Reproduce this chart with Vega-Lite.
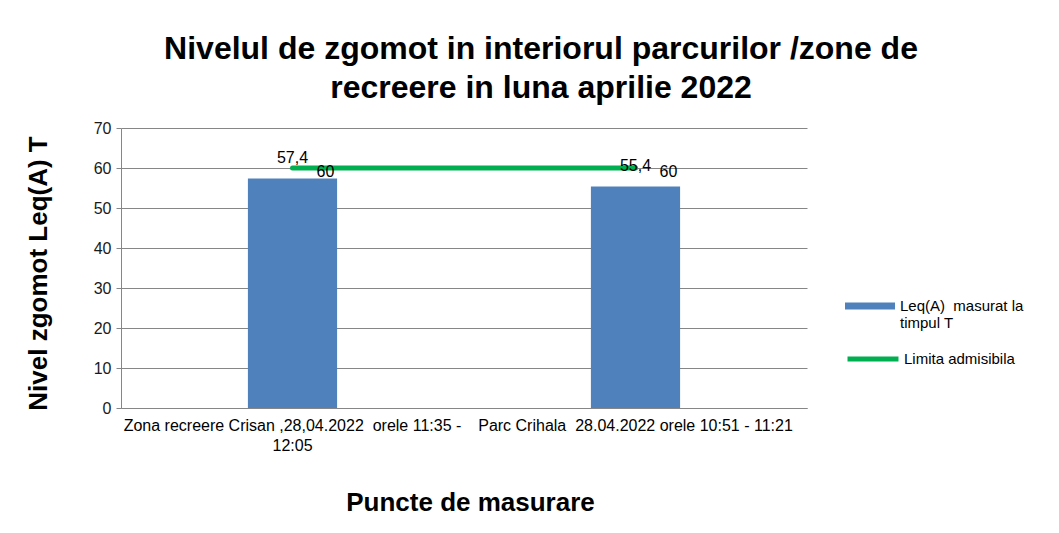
{
  "$schema": "https://vega.github.io/schema/vega-lite/v6.json",
  "width": 686,
  "height": 280,
  "autosize": {"type": "none"},
  "padding": {"left": 121, "top": 128, "right": 252, "bottom": 125},
  "background": "white",
  "config": {
    "font": "Liberation Sans",
    "view": {"stroke": null},
    "locale": {"number": {"decimal": ",", "thousands": ".", "grouping": [3], "currency": ["", " lei"]}},
    "axisY": {
      "titleFont": "Liberation Sans",
      "titleFontSize": 26,
      "titleFontWeight": "bold",
      "titleColor": "#000000",
      "titleAngle": -90,
      "titleX": -83,
      "titleY": 145,
      "titleAlign": "center",
      "titleBaseline": "middle",
      "labelFontSize": 16,
      "labelColor": "#1a1a1a",
      "labelPadding": 5,
      "tickSize": 5,
      "tickColor": "#868686",
      "domainColor": "#868686",
      "gridColor": "#868686",
      "gridWidth": 1,
      "grid": true
    }
  },
  "title": {
    "text": ["Nivelul de zgomot in interiorul parcurilor /zone de", "recreere in luna aprilie 2022"],
    "font": "Liberation Sans",
    "fontSize": 32,
    "fontWeight": "bold",
    "color": "#000000",
    "anchor": "middle",
    "dx": 77,
    "lineHeight": 39,
    "offset": 15
  },
  "data": {
    "values": [
      {"punct": "Zona recreere Crisan ,28,04.2022  orele 11:35 - 12:05", "leq": 57.4, "limita": 60},
      {"punct": "Parc Crihala  28.04.2022 orele 10:51 - 11:21", "leq": 55.4, "limita": 60}
    ]
  },
  "encoding": {
    "x": {
      "field": "punct",
      "type": "nominal",
      "sort": null,
      "scale": {"paddingInner": 0.74, "paddingOuter": 0.37},
      "axis": {
        "title": "Puncte de masurare",
        "titleFont": "Liberation Sans",
        "titleFontSize": 26,
        "titleFontWeight": "bold",
        "titleColor": "#000000",
        "titleX": 349,
        "titleY": 94,
        "titleBaseline": "middle",
        "titleAlign": "center",
        "labelAngle": 0,
        "labelFontSize": 16,
        "labelColor": "#000000",
        "labelLimit": 0,
        "labelOverlap": false,
        "labelPadding": 9,
        "labelLineHeight": 20,
        "labelExpr": "datum.value == 'Zona recreere Crisan ,28,04.2022  orele 11:35 - 12:05' ? ['Zona recreere Crisan ,28,04.2022\u00a0 orele 11:35 -', '12:05'] : 'Parc Crihala\u00a0 28.04.2022 orele 10:51 - 11:21'",
        "ticks": false,
        "domainColor": "#868686",
        "domainWidth": 1
      }
    }
  },
  "layer": [
    {
      "mark": {"type": "bar", "strokeWidth": 0},
      "encoding": {
        "y": {
          "field": "leq",
          "type": "quantitative",
          "scale": {"domain": [0, 70]},
          "axis": {"title": "Nivel zgomot Leq(A) T", "values": [0, 10, 20, 30, 40, 50, 60, 70]}
        },
        "color": {
          "datum": "Leq(A)  masurat la timpul T",
          "type": "nominal",
          "scale": {"range": ["#4F81BD"]},
          "legend": {
            "title": null,
            "orient": "none",
            "legendX": 724,
            "legendY": 153,
            "symbolType": "M-1,-0.14H1V0.14H-1Z",
            "symbolSize": 2500,
            "symbolStrokeWidth": 0,
            "labelFontSize": 15,
            "labelColor": "#000000",
            "labelBaseline": "middle",
            "labelLineHeight": 17,
            "labelOffset": 5,
            "labelLimit": 0,
            "labelExpr": "['Leq(A)\u00a0 masurat la', 'timpul T']"
          }
        }
      }
    },
    {
      "mark": {"type": "line", "strokeWidth": 5, "strokeCap": "round"},
      "encoding": {
        "y": {"field": "limita", "type": "quantitative", "axis": {"title": "Nivel zgomot Leq(A) T", "values": [0, 10, 20, 30, 40, 50, 60, 70]}},
        "stroke": {
          "datum": "Limita admisibila",
          "type": "nominal",
          "scale": {"range": ["#00B050"]},
          "legend": {
            "title": null,
            "orient": "none",
            "legendX": 724,
            "legendY": 203,
            "symbolType": "stroke",
            "symbolSize": 2600,
            "symbolStrokeWidth": 5,
            "labelFontSize": 15,
            "labelColor": "#000000",
            "labelOffset": 3,
            "labelLimit": 0
          }
        }
      }
    },
    {
      "mark": {"type": "text", "fontSize": 16, "color": "#000000", "baseline": "alphabetic", "dy": -15, "align": "center"},
      "encoding": {
        "y": {"field": "leq", "type": "quantitative", "axis": {"title": "Nivel zgomot Leq(A) T", "values": [0, 10, 20, 30, 40, 50, 60, 70]}},
        "text": {"field": "leq", "type": "quantitative", "format": ".1f"}
      }
    },
    {
      "mark": {"type": "text", "fontSize": 16, "color": "#000000", "baseline": "middle", "dy": 4, "dx": 24, "align": "left"},
      "encoding": {
        "y": {"field": "limita", "type": "quantitative", "axis": {"title": "Nivel zgomot Leq(A) T", "values": [0, 10, 20, 30, 40, 50, 60, 70]}},
        "text": {"field": "limita", "type": "quantitative", "format": "d"}
      }
    }
  ]
}
